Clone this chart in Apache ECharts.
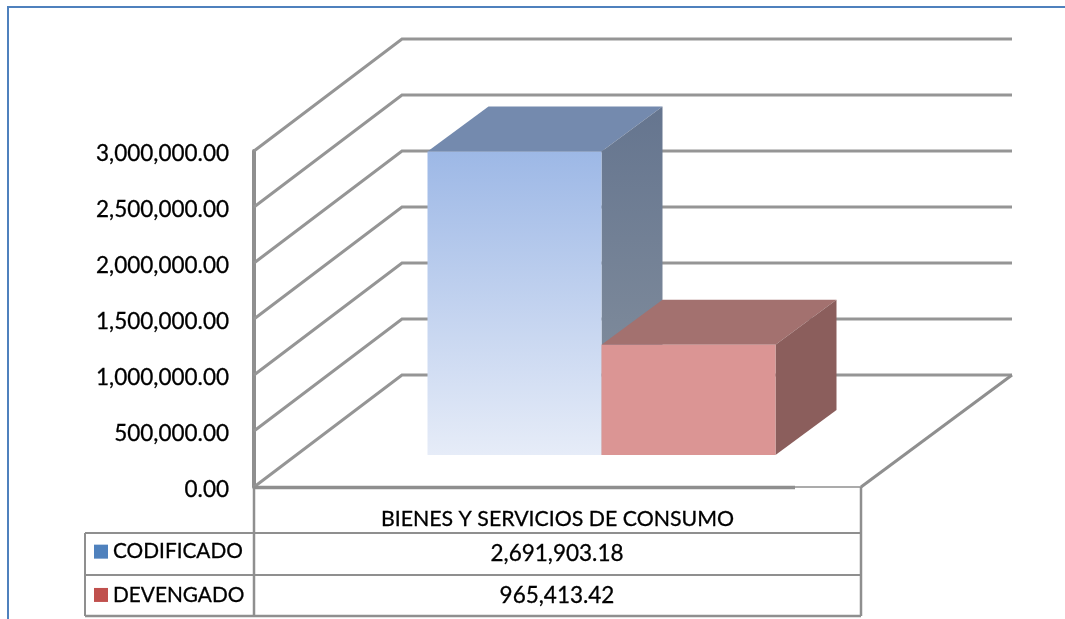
<!DOCTYPE html>
<html>
<head>
<meta charset="utf-8">
<style>html,body{margin:0;padding:0;background:#fff}#c{width:1065px;height:619px}</style>
<script src="https://cdn.jsdelivr.net/npm/echarts@6/dist/echarts.min.js"></script>
</head>
<body>
<div id="c"></div>
<script>
const categories = ['BIENES Y SERVICIOS DE CONSUMO'];
const codificado = [2691903.18];
const devengado = [965413.42];
const yTicks = [0, 500000, 1000000, 1500000, 2000000, 2500000, 3000000];

const FONT = 'Lato';
const GRAY = '#8f8f8f';
const INK = {color: '#000', textBorderColor: '#000', textBorderWidth: 0.3};
const money = v => v.toLocaleString('en-US', {minimumFractionDigits: 2, maximumFractionDigits: 2});

const WALL_DX = 148, WALL_DY = 112, WALL_RIGHT = 151;
const BAR_W = 174, BAR_SHIFT = 44, BASE_UP = 32, TOP_UP = 34, DEPTH_X = 61, DEPTH_Y = 45;

function grad(a, b) {
  return {type: 'linear', x: 0, y: 0, x2: 0, y2: 1, colorStops: [{offset: 0, color: a}, {offset: 1, color: b}]};
}
function poly(points, fill) {
  return {type: 'polygon', shape: {points}, style: {fill, stroke: null}};
}
function barRenderer(side, colors) {
  return function (params, api) {
    const top = api.coord([api.value(0), api.value(1)]);
    const base = api.coord([api.value(0), 0]);
    const cx = base[0] + BAR_SHIFT;
    const x0 = side < 0 ? cx - BAR_W : cx;
    const x1 = x0 + BAR_W;
    const yT = top[1] - TOP_UP, yB = base[1] - BASE_UP;
    return {type: 'group', children: [
      poly([[x0, yT], [x0 + DEPTH_X, yT - DEPTH_Y], [x1 + DEPTH_X, yT - DEPTH_Y], [x1, yT]], colors.top),
      poly([[x1, yT], [x1 + DEPTH_X, yT - DEPTH_Y], [x1 + DEPTH_X, yB - DEPTH_Y], [x1, yB]], colors.side),
      poly([[x0, yT], [x1, yT], [x1, yB], [x0, yB]], colors.front)
    ]};
  };
}
function wallRenderer(params, api) {
  const y = api.coord([0, api.value(1)])[1];
  const cs = params.coordSys;
  return {type: 'polyline', shape: {points: [[cs.x, y], [cs.x + WALL_DX, y - WALL_DY], [cs.x + cs.width + WALL_RIGHT, y - WALL_DY]]},
    style: {stroke: '#959595', lineWidth: 3, fill: null}};
}
function cell(x1, y1, x2, y2, w) {
  return {type: 'line', shape: {x1, y1, x2, y2}, style: {stroke: GRAY, lineWidth: w}, z: 20};
}
function tableText(text, y) {
  return {type: 'text', x: 557, y, z: 20, style: {text, fill: '#000', stroke: '#000', lineWidth: 0.3, font: '22.5px ' + FONT, textAlign: 'center', textVerticalAlign: 'middle'}};
}

const option = {
  animation: false,
  backgroundColor: '#fff',
  grid: {left: 254, top: 151, width: 607, height: 336, containLabel: false},
  xAxis: {type: 'category', data: categories, axisTick: {show: false},
    axisLine: {show: false},
    axisLabel: {...INK, fontFamily: FONT, fontSize: 21.3, margin: 22}},
  yAxis: {type: 'value', min: 0, max: 3000000, interval: 500000,
    splitLine: {show: false}, axisTick: {show: false},
    axisLine: {show: true, lineStyle: {color: GRAY, width: 4}},
    axisLabel: {fontFamily: FONT, fontSize: 22.5, margin: 25, formatter: v => '{a|' + money(v) + '}',
      rich: {a: {...INK, fontFamily: FONT, fontSize: 22.5, padding: [6, 0, 0, 0]}}}},
  legend: {orient: 'vertical', left: 94, top: 541, padding: 0, itemWidth: 14, itemHeight: 14, itemGap: 22,
    icon: 'rect', selectedMode: false, data: ['CODIFICADO', 'DEVENGADO'],
    textStyle: {...INK, fontFamily: FONT, fontSize: 20.8}},
  series: [
    {type: 'custom', name: 'walls', coordinateSystem: 'cartesian2d', clip: false, z: 1, silent: true,
      encode: {x: 0, y: 1}, data: yTicks.map(t => [0, t]), renderItem: wallRenderer},
    {type: 'custom', name: 'DEVENGADO', coordinateSystem: 'cartesian2d', clip: false, z: 3,
      itemStyle: {color: '#c0504d'}, encode: {x: 0, y: 1},
      data: devengado.map((v, i) => [i, v]),
      renderItem: barRenderer(1, {top: '#a3716f', side: '#8b5e5c', front: '#db9594'})},
    {type: 'custom', name: 'CODIFICADO', coordinateSystem: 'cartesian2d', clip: false, z: 2,
      itemStyle: {color: '#4f81bd'}, encode: {x: 0, y: 1},
      data: codificado.map((v, i) => [i, v]),
      renderItem: barRenderer(-1, {top: '#748aae', side: grad('#65758f', '#87929f'), front: grad('#9db8e6', '#e6ecf8')})}
  ],
  graphic: {elements: [
    {type: 'polyline', z: 30, shape: {points: [[8, 619], [8, 7], [1065, 7]]}, style: {stroke: '#4f81bd', lineWidth: 2, fill: null}},
    cell(254, 487.5, 795, 487.5, 3.5),
    cell(795, 487, 861, 487, 1.5),
    cell(861, 487, 1012, 375, 3),
    cell(254, 487, 254, 616, 2.5),
    cell(861, 487, 861, 616, 2.5),
    cell(85, 533, 861, 533, 2),
    cell(85, 575, 861, 575, 2),
    cell(85, 616, 861, 616, 2.5),
    cell(85, 533, 85, 616, 2),
    tableText(money(codificado[0]), 554),
    tableText(money(devengado[0]), 596)
  ]}
};
echarts.init(document.getElementById('c'), null, {renderer: 'canvas'}).setOption(option);
</script>
</body>
</html>
